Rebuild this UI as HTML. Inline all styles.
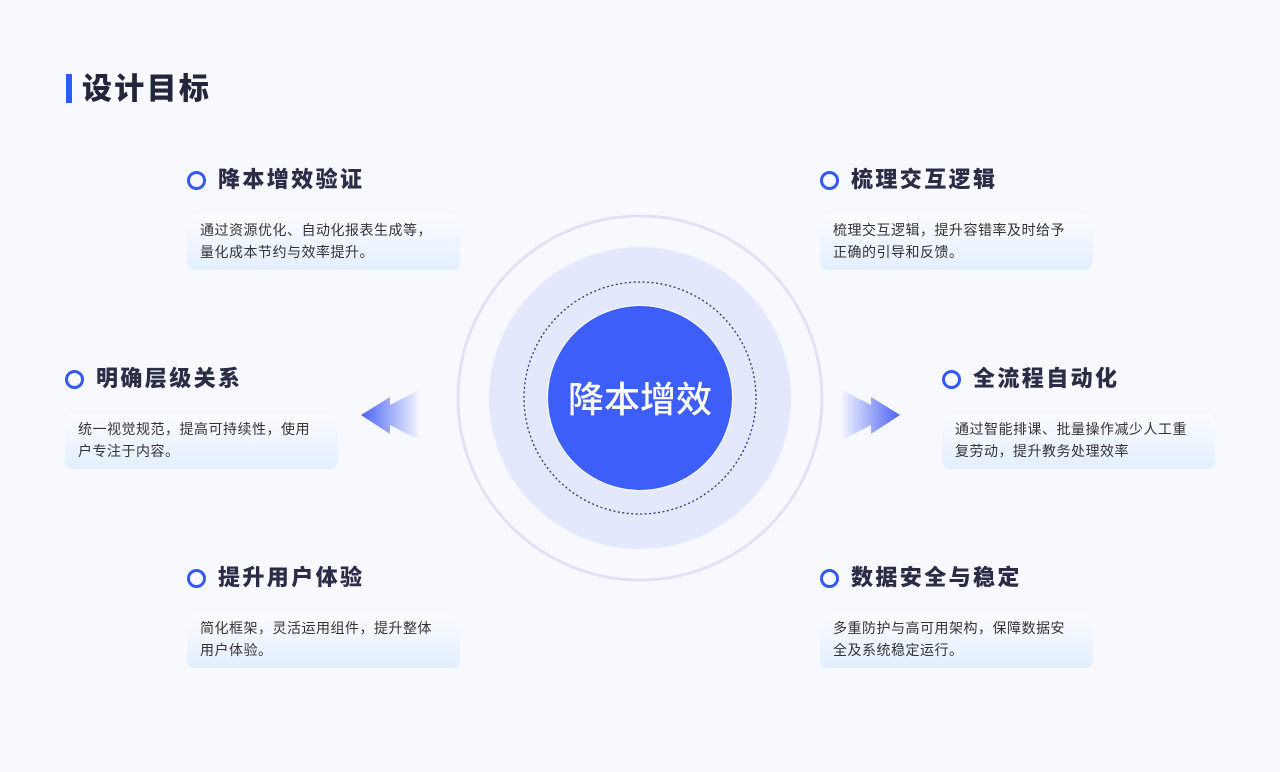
<!DOCTYPE html>
<html><head><meta charset="utf-8"><style>
body{margin:0;width:1280px;height:772px;background:#f7f9fe;position:relative;overflow:hidden;font-family:"Liberation Sans","Noto Sans CJK SC",sans-serif}
.h{position:absolute;left:82px;top:70px;font-size:30px;font-weight:900;color:#23263b;line-height:40px;letter-spacing:2.3px}
.bar{position:absolute;left:66px;top:74px;width:6px;height:29px;background:#2b5cff}
.t{position:absolute;font-size:22px;font-weight:900;color:#2a2d45;line-height:30px;letter-spacing:2.4px}
.ring{position:absolute;width:13px;height:13px;border:3.5px solid #3458f5;border-radius:50%}
.box{position:absolute;width:273px;height:55px;border-radius:8px;background:linear-gradient(180deg,#fbfcff,#e3eefe);font-size:14px;color:#333;line-height:22px;box-sizing:border-box;padding:4px 10px 0 13px;letter-spacing:0.5px}
</style></head><body>
<div class="bar"></div><div class="h">设计目标</div>

<svg width="1280" height="772" style="position:absolute;left:0;top:0">
<defs>
<linearGradient id="gl" x1="0" x2="1"><stop offset="0" stop-color="#4a63f5"/><stop offset="1" stop-color="#4a63f5" stop-opacity="0"/></linearGradient>
<linearGradient id="gr" x1="1" x2="0"><stop offset="0" stop-color="#4a63f5"/><stop offset="1" stop-color="#4a63f5" stop-opacity="0"/></linearGradient>
</defs>
<circle cx="640" cy="398" r="182" fill="none" stroke="#e0e2f4" stroke-width="3"/>
<circle cx="640" cy="398" r="151" fill="#e3e8fc"/>
<circle cx="640" cy="398" r="116" fill="none" stroke="#2a3580" stroke-width="1.3" stroke-dasharray="2 2.5"/>
<circle cx="640" cy="398" r="92.5" fill="#3d5ef8" stroke="#fff" stroke-width="1"/>
<text x="640" y="412" text-anchor="middle" font-size="36" font-weight="500" fill="#fff" font-family="Liberation Sans,Noto Sans CJK SC,sans-serif">降本增效</text>
<polygon points="361,415 390,397 390,405 421,389 421,441 390,425 390,434" fill="url(#gl)"/>
<polygon points="900,415 871,397 871,405 840,389 840,441 871,425 871,434" fill="url(#gr)"/>
</svg>

<div class="ring" style="left:187px;top:171px"></div><div class="t" style="left:218px;top:165px">降本增效验证</div>
<div class="box" style="left:187px;top:215px">通过资源优化、自动化报表生成等，<br>量化成本节约与效率提升。</div>

<div class="ring" style="left:820px;top:171px"></div><div class="t" style="left:851px;top:165px">梳理交互逻辑</div>
<div class="box" style="left:820px;top:215px">梳理交互逻辑，提升容错率及时给予<br>正确的引导和反馈。</div>

<div class="ring" style="left:65px;top:370px"></div><div class="t" style="left:96px;top:364px">明确层级关系</div>
<div class="box" style="left:65px;top:414px">统一视觉规范，提高可持续性，使用<br>户专注于内容。</div>

<div class="ring" style="left:942px;top:370px"></div><div class="t" style="left:973px;top:364px">全流程自动化</div>
<div class="box" style="left:942px;top:414px">通过智能排课、批量操作减少人工重<br>复劳动，提升教务处理效率</div>

<div class="ring" style="left:187px;top:569px"></div><div class="t" style="left:218px;top:563px">提升用户体验</div>
<div class="box" style="left:187px;top:613px">简化框架，灵活运用组件，提升整体<br>用户体验。</div>

<div class="ring" style="left:820px;top:569px"></div><div class="t" style="left:851px;top:563px">数据安全与稳定</div>
<div class="box" style="left:820px;top:613px">多重防护与高可用架构，保障数据安<br>全及系统稳定运行。</div>
</body></html>
